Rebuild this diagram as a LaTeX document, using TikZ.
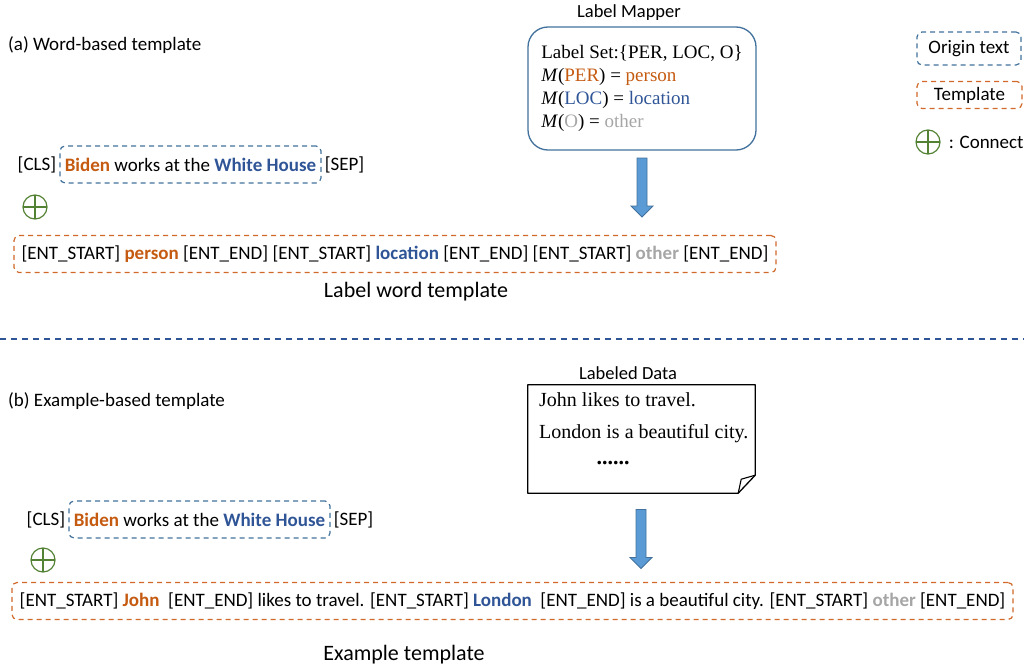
\documentclass[tikz,border=0pt]{standalone}
\usepackage{fontspec}
\setmainfont{Carlito}
\newfontfamily\tnr{Liberation Serif}
\usetikzlibrary{positioning, calc}

\definecolor{orgC}{HTML}{C55A11}
\definecolor{orgD}{HTML}{D0692A}
\definecolor{bluC}{HTML}{2F5597}
\definecolor{bluD}{HTML}{41719C}
\definecolor{bluF}{HTML}{5B9BD5}
\definecolor{grnC}{HTML}{548235}
\definecolor{gryC}{HTML}{A6A6A6}

\newcommand{\ow}[1]{\textcolor{orgC}{\textbf{#1}}}
\newcommand{\bw}[1]{\textcolor{bluC}{\textbf{#1}}}
\newcommand{\gw}[1]{\textcolor{gryC}{\textbf{#1}}}
% block arrow pointing down, centred at #1
\newcommand{\downblock}[1]{%
  \draw[draw=bluD, fill=bluF, line width=0.8pt, line join=miter]
    (#1) ++(-5,-29.5) -- ++(10,0) -- ++(0,48) -- ++(6,0) -- ++(-11,11)
    -- ++(-11,-11) -- ++(6,0) -- cycle;}

\begin{document}
\begin{tikzpicture}[x=1pt, y=-1pt,
  plain/.style={inner sep=0pt, font=\fontsize{19}{22}\selectfont},
  title/.style={inner sep=0pt, font=\fontsize{18.5}{22}\selectfont},
  origin/.style={draw=bluD, dash pattern=on 5pt off 4pt, line width=1.2pt,
    rounded corners=5pt, inner sep=0pt, minimum height=37pt, font=\fontsize{19}{22}\selectfont},
  templ/.style={draw=orgD, dash pattern=on 5pt off 4pt, line width=1.2pt,
    rounded corners=5pt, inner sep=0pt, minimum height=37pt, font=\fontsize{19}{22}\selectfont},
  connect/.style={circle, draw=grnC, line width=1.2pt, minimum size=24pt, inner sep=0pt,
    path picture={\draw[grnC, line width=1.2pt]
      (path picture bounding box.north) -- (path picture bounding box.south)
      (path picture bounding box.west) -- (path picture bounding box.east);}},
  serif/.style={inner sep=0pt, font=\tnr\fontsize{19}{23}\selectfont}
]
\useasboundingbox (0,0) rectangle (1024,669);

% (a) word-based
\node (capA) [plain, anchor=west] at (8,45) {(a) Word-based template};

% label mapper
\node (mapperT) [title] at (629,13) {Label Mapper};
\node (mapper) [draw=bluD, line width=1.3pt, rounded corners=20pt, minimum width=228pt,
  minimum height=123pt, serif, align=left] at (642,88.5)
  {Label Set:\{PER, LOC, O\}\\
   \textit{M}(\textcolor{orgC}{PER}) = \textcolor{orgC}{person}\\
   \textit{M}(\textcolor{bluC}{LOC}) = \textcolor{bluC}{location}\\
   \textit{M}(\textcolor{gryC}{O}) = \textcolor{gryC}{other}};
\coordinate (arrA) at (642,187.5);
\downblock{arrA}

% legend
\node (legO) [origin, minimum width=104pt, minimum height=33pt] at (969,48.5) {Origin text};
\node (legT) [templ, minimum width=105pt, minimum height=27pt] at (969.5,95) {Template};
\node (legC) [connect] at (928,142) {};
\node (legCt) [plain, right=8pt of legC] {: Connect};

% input sentence (a)
\node (origA) [origin, minimum width=261pt] at (190.5,164.5)
  {\ow{Biden} works at the \bw{White House}};
\node (clsA) [plain, left=3pt of origA] {[CLS]};
\node (sepA) [plain, right=3pt of origA] {[SEP]};
\node (plusA) [connect] at (35,207) {};

% template (a)
\node (tplA) [templ, minimum width=762pt] at (395,254)
  {[ENT\_START] \ow{person} [ENT\_END] [ENT\_START] \bw{location} [ENT\_END] [ENT\_START] \gw{other} [ENT\_END]};
\node (tplAt) [title, font=\fontsize{22}{26}\selectfont] at (416,292) {Label word template};

% divider
\coordinate (divL) at (0,339);
\coordinate (divR) at (1024,339);
\draw[bluC, line width=1.2pt, dash pattern=on 6pt off 5pt] (divL) -- (divR);

% (b) example-based
\node (capB) [plain, anchor=west] at (8,401) {(b) Example-based template};

% labeled data
\node (dataT) [title] at (628,373) {Labeled Data};
\node (data) [minimum width=227pt, minimum height=108pt, inner sep=0pt] at (641.5,439) {};
\draw[line width=1.3pt, line join=round]
  (data.north west) -- (data.north east) -- ([yshift=18pt]data.south east)
  -- ([xshift=-17pt]data.south east) -- (data.south west) -- cycle;
\draw[line width=1.1pt, line join=round]
  ([xshift=-17pt]data.south east) -- ([xshift=-14pt, yshift=14pt]data.south east)
  -- ([yshift=18pt]data.south east);
\node (d1) [serif, font=\tnr\fontsize{20}{23}\selectfont, anchor=west] at (539,400) {John likes to travel.};
\node (d2) [serif, font=\tnr\fontsize{20}{23}\selectfont, anchor=west] at (539,434) {London is a beautiful city.};
\node (d3) [serif, font=\tnr\fontsize{22}{23}\selectfont] at (613,463) {\textbf{......}};
\coordinate (arrB) at (641,539);
\downblock{arrB}

% input sentence (b)
\node (origB) [origin, minimum width=261pt] at (199.5,519.5)
  {\ow{Biden} works at the \bw{White House}};
\node (clsB) [plain, left=3pt of origB] {[CLS]};
\node (sepB) [plain, right=3pt of origB] {[SEP]};
\node (plusB) [connect] at (43,560) {};

% template (b)
\node (tplB) [templ, minimum width=1001pt] at (512.5,601)
  {[ENT\_START] \ow{John}\ \ [ENT\_END] likes to travel. [ENT\_START] \bw{London}\ \ [ENT\_END] is a beautiful city. [ENT\_START] \gw{other} [ENT\_END]};
\node (tplBt) [title, font=\fontsize{22}{26}\selectfont] at (404,655) {Example template};
\end{tikzpicture}
\end{document}
